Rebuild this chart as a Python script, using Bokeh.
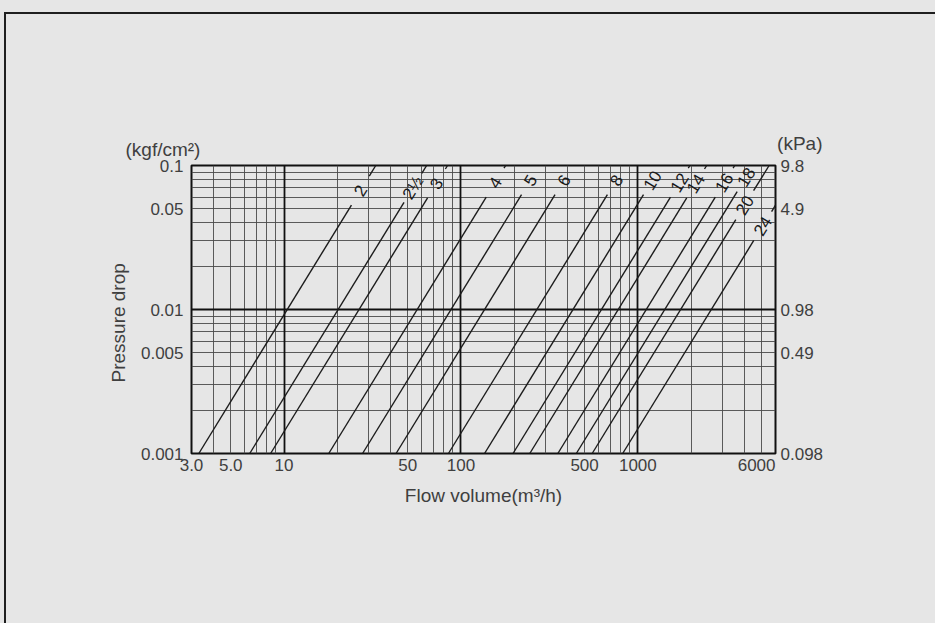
import math
from bokeh.plotting import figure
from bokeh.models import (FixedTicker, LogAxis, Range1d, LogScale, CustomJSTickFormatter,
                          Grid, Title)
from bokeh.core.properties import value
from bokeh.embed import file_html
from bokeh.resources import INLINE

# ---------------- data ----------------
sizes = ["2", "2½", "3", "4", "5", "6", "8", "10", "12", "14", "16", "18", "20", "24"]
# flow (m3/h) where each line leaves the bottom (0.001 kgf/cm2)
q_start = [3.3, 6.4, 8.4, 17.9, 27.8, 43, 85, 136, 197, 245, 353, 449, 552, 821]
dp_start = [0.001, 0.001, 0.001, 0.001, 0.001, 0.001, 0.001,
            0.001, 0.001, 0.001, 0.001, 0.001, 0.001, 0.001]
# where each line ends (top or right border)
q_end = [33, 64, 84, 179, 278, 430, 850, 1360, 1970, 2450, 3530, 4490, 5520, 6000]
dp_end = [0.1, 0.1, 0.1, 0.1, 0.1, 0.1, 0.1, 0.1, 0.1, 0.1, 0.1, 0.1, 0.1, 0.053]
# pressure drop at which each size label sits on its line
label_dp = [0.067, 0.070, 0.075, 0.076, 0.079, 0.079, 0.079, 0.079,
            0.076, 0.075, 0.076, 0.083, 0.053, 0.038]

x_ticks = [3, 5, 10, 50, 100, 500, 1000, 6000]
x_tick_labels = ["3.0", "5.0", "10", "50", "100", "500", "1000", "6000"]
y_ticks = [0.001, 0.005, 0.01, 0.05, 0.1]
y_tick_labels = ["0.001", "0.005", "0.01", "0.05", "0.1"]
kpa_ticks = [0.098, 0.49, 0.98, 4.9, 9.8]
kpa_tick_labels = ["0.098", "0.49", "0.98", "4.9", "9.8"]

x_min, x_max = 3, 6000
y_min, y_max = 0.001, 0.1

# ---------------- styling / layout ----------------
BG = "#e6e6e6"
INK = "#1c1c1c"
TXT = "#3f3f3f"
FONT = "Liberation Sans"
W, H = 935, 623
BL, BR, BT, BB = 191, 160, 165, 170
FW, FH = W - BL - BR, H - BT - BB

p = figure(width=W, height=H, x_axis_type="log", y_axis_type="log",
           x_range=Range1d(x_min, x_max), y_range=Range1d(y_min, y_max),
           output_backend="svg", toolbar_location=None, title=None,
           min_border_left=BL, min_border_right=BR, min_border_top=BT, min_border_bottom=BB,
           background_fill_color=BG, border_fill_color=None)
# panel background with the outer frame lines (top and left) of the printed figure
p.styles = {
    "background-color": BG,
    "background-image": "linear-gradient(#1f1f1f,#1f1f1f), linear-gradient(#1f1f1f,#1f1f1f)",
    "background-size": "2px 100%, 100% 2px",
    "background-position": "4px 12px, 4px 12px",
    "background-repeat": "no-repeat",
}
p.grid.visible = False
p.outline_line_color = "#111111"
p.outline_line_width = 2

# grid lines
minor_x = [m * 10 ** e for e in range(0, 4) for m in range(2, 10) if x_min < m * 10 ** e < x_max]
major_x = [10, 100, 1000]
minor_y = [m * 10.0 ** e for e in (-3, -2) for m in range(2, 10)]
major_y = [0.01]
p.add_layout(Grid(dimension=0, ticker=FixedTicker(ticks=minor_x), grid_line_color="#4a4a4a",
                  grid_line_width=0.9))
p.add_layout(Grid(dimension=1, ticker=FixedTicker(ticks=minor_y), grid_line_color="#4a4a4a",
                  grid_line_width=0.9))
p.add_layout(Grid(dimension=0, ticker=FixedTicker(ticks=major_x), grid_line_color="#111111",
                  grid_line_width=1.8))
p.add_layout(Grid(dimension=1, ticker=FixedTicker(ticks=major_y), grid_line_color="#111111",
                  grid_line_width=1.8))

# ---------------- lines with a gap for each size label ----------------
px_dec = FW / math.log10(x_max / x_min)
py_dec = FH / math.log10(y_max / y_min)
HALF_GAP = 17  # px along the line

x0s, y0s, x1s, y1s = [], [], [], []
lab_q, lab_ang = [], []
for qs, ds, qe, de, ld in zip(q_start, dp_start, q_end, dp_end, label_dp):
    lx0, ly0, lx1, ly1 = math.log10(qs), math.log10(ds), math.log10(qe), math.log10(de)
    dx, dy = (lx1 - lx0) * px_dec, (ly1 - ly0) * py_dec
    L = math.hypot(dx, dy)
    t_lab = (math.log10(ld) - ly0) / (ly1 - ly0)
    g = HALF_GAP / L
    at = lambda t: (10 ** (lx0 + t * (lx1 - lx0)), 10 ** (ly0 + t * (ly1 - ly0)))
    a, b = at(0), at(t_lab - g)
    x0s.append(a[0]); y0s.append(a[1]); x1s.append(b[0]); y1s.append(b[1])
    if t_lab + g < 1:
        a, b = at(t_lab + g), at(1)
        x0s.append(a[0]); y0s.append(a[1]); x1s.append(b[0]); y1s.append(b[1])
    lab_q.append(at(t_lab)[0])
    lab_ang.append(math.atan2(dy, dx))

p.segment(x0=x0s, y0=y0s, x1=x1s, y1=y1s, line_color=INK, line_width=1.4)
p.text(x=lab_q, y=label_dp, text=sizes, angle=lab_ang, text_align="center",
       text_baseline="middle", text_font=value(FONT), text_font_size="17px",
       text_color="#1a1a1a")

# ---------------- axes ----------------
def fmt(ticks, labels):
    return CustomJSTickFormatter(args=dict(t=ticks, l=labels),
                                 code="const i = t.indexOf(tick); return i >= 0 ? l[i] : '';")

ya = p.yaxis[0]
ya.ticker = FixedTicker(ticks=y_ticks, minor_ticks=[])
ya.formatter = fmt(y_ticks, y_tick_labels)

p.extra_y_ranges = {"kpa": Range1d(kpa_ticks[0], kpa_ticks[-1])}
p.extra_y_scales = {"kpa": LogScale()}
ra = LogAxis(y_range_name="kpa", ticker=FixedTicker(ticks=kpa_ticks, minor_ticks=[]),
             formatter=fmt(kpa_ticks, kpa_tick_labels))
p.add_layout(ra, "right")

# the last flow label is printed flush with the right border: shift it left by half its width
TICK_FS = 17
half_w = 0.556 * TICK_FS * len(x_tick_labels[-1]) / 2
x_tick_pos = x_ticks[:-1] + [x_ticks[-1] / 10 ** (half_w / px_dec)]
xa = p.xaxis[0]
xa.ticker = FixedTicker(ticks=x_tick_pos, minor_ticks=[])
xa.formatter = fmt(x_tick_pos, x_tick_labels)
xa.axis_label = "Flow volume(m³/h)"
xa.major_label_standoff = 5
xa.axis_label_standoff = 11

for ax in (xa, ya, ra):
    ax.axis_line_color = None
    ax.major_tick_line_color = None
    ax.minor_tick_line_color = None
    ax.major_tick_out = 0
    ax.major_tick_in = 0
    ax.major_label_text_font = FONT
    ax.major_label_text_font_size = f"{TICK_FS}px"
    ax.major_label_text_color = TXT
    ax.axis_label_text_font = FONT
    ax.axis_label_text_font_size = "19px"
    ax.axis_label_text_font_style = "normal"
    ax.axis_label_text_color = TXT
ya.major_label_standoff = 8
ra.major_label_standoff = 5

# y-axis title, printed a little below the middle of the axis
p.add_layout(Title(text="Pressure drop", align="left", offset=71, standoff=17,
                   text_font=FONT, text_font_size="19px", text_font_style="normal",
                   text_color=TXT), "left")

# unit captions above the two value axes (title rows above the frame; the second row
# is pulled back down so both captions sit at about the same height)
p.add_layout(Title(text="(kgf/cm²)", align="left", offset=-66, standoff=12,
                   text_font=FONT, text_font_size="19px", text_font_style="normal",
                   text_color=TXT), "above")
p.add_layout(Title(text="(kPa)", align="right", offset=-47, standoff=-46,
                   text_font=FONT, text_font_size="19px", text_font_style="normal",
                   text_color=TXT), "above")

open("out.html", "w").write(file_html(p, INLINE))
